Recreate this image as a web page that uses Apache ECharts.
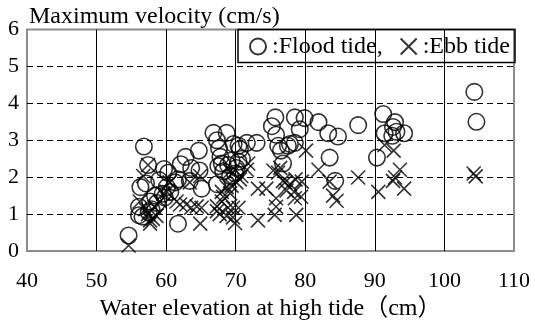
<!DOCTYPE html>
<html>
<head>
<meta charset="utf-8">
<script src="https://cdn.jsdelivr.net/npm/echarts@6/dist/echarts.min.js"></script>
<style>
  html, body { margin: 0; padding: 0; background: #fff; }
  #chart { width: 535px; height: 326px; }
</style>
</head>
<body>
<div id="chart"></div>
<script>
// Water elevation at high tide (cm) vs. maximum velocity (cm/s)
const xTicks = [40, 50, 60, 70, 80, 90, 100, 110];
const yTicks = [0, 1, 2, 3, 4, 5, 6];

// Flood tide observations: [elevation, velocity]
const floodTide = [
  [54.6, 0.42], [56.8, 2.83], [57.4, 2.33], [56.3, 1.73], [57.1, 1.83],
  [56.1, 1.2], [56.1, 0.97], [56.6, 0.93], [57.7, 1.34], [57.9, 1.13],
  [58.4, 1.5], [59.0, 1.92], [59.7, 2.22], [60.1, 1.73], [60.6, 1.6],
  [60.3, 2.12], [59.5, 1.55], [59.8, 1.45], [58.7, 1.3], [57.5, 1.05],
  [61.7, 0.74], [61.7, 1.94], [61.3, 1.86], [62.1, 2.35], [62.8, 2.55],
  [63.6, 2.25], [63.4, 1.9], [64.7, 2.72], [64.8, 2.18], [65.1, 1.69],
  [66.8, 3.2], [67.3, 3.0], [68.7, 3.2], [67.6, 2.78], [67.8, 2.55],
  [67.5, 2.3], [67.3, 1.81], [68.0, 2.37], [68.2, 2.16], [68.9, 2.33],
  [69.2, 2.03], [69.4, 2.45], [69.7, 2.9], [70.1, 2.25], [70.4, 2.42],
  [70.6, 2.76], [70.4, 2.85], [69.9, 2.1], [70.9, 2.5], [71.6, 2.93],
  [73.0, 2.93], [75.2, 3.38], [75.7, 3.62], [75.8, 3.15], [76.1, 2.85],
  [76.5, 2.72], [76.8, 2.37], [77.8, 2.9], [77.5, 2.85], [78.5, 3.62],
  [78.5, 2.93], [79.2, 3.3], [79.9, 3.6], [81.9, 3.49], [83.3, 3.19],
  [84.7, 3.1], [87.6, 3.41], [83.5, 2.53], [84.3, 1.9], [91.2, 3.71],
  [92.9, 3.49], [92.6, 3.36], [91.4, 3.19], [93.1, 3.23], [94.2, 3.19],
  [92.5, 3.12], [90.3, 2.53], [104.3, 4.31], [104.6, 3.5]
];

// Ebb tide observations: [elevation, velocity]
const ebbTide = [
  [54.6, 0.15], [57.4, 2.33], [56.7, 2.03], [56.2, 1.34], [57.0, 1.13],
  [57.7, 0.83], [58.1, 0.87], [58.6, 0.95], [57.4, 1.0], [57.7, 0.74],
  [59.1, 1.34], [59.6, 1.56], [60.1, 1.6], [60.5, 1.86], [58.3, 1.2],
  [61.5, 1.34], [62.0, 1.26], [62.9, 1.26], [63.6, 1.17], [64.4, 1.21],
  [65.1, 1.17], [64.9, 0.74], [63.4, 1.86], [64.9, 2.03], [67.3, 1.21],
  [67.3, 1.08], [68.0, 1.34], [67.7, 1.0], [68.2, 1.47], [68.7, 0.95],
  [68.9, 1.17], [69.6, 1.17], [69.6, 0.91], [69.9, 0.76], [70.4, 1.17],
  [68.0, 1.6], [68.7, 1.73], [69.4, 1.77], [69.2, 1.56], [70.1, 1.86],
  [69.6, 2.12], [69.2, 2.16], [70.6, 1.94], [70.8, 2.03], [71.6, 2.2],
  [71.8, 2.37], [73.2, 1.69], [74.4, 1.69], [73.2, 0.83], [75.4, 2.18],
  [76.1, 2.12], [76.4, 2.25], [76.8, 1.9], [77.1, 1.86], [77.8, 1.81],
  [78.6, 1.94], [79.5, 1.88], [77.3, 1.64], [78.4, 1.6], [75.8, 1.43],
  [78.5, 1.43], [79.4, 1.47], [75.8, 1.2], [75.6, 0.98], [78.7, 0.98],
  [80.1, 2.72], [81.9, 2.2], [83.5, 1.88], [84.0, 1.5], [84.5, 1.36],
  [87.6, 1.99], [90.5, 1.6], [91.4, 2.87], [92.7, 2.72], [93.6, 2.2],
  [92.9, 1.99], [92.6, 1.9], [94.2, 1.69], [104.2, 2.1], [104.5, 2.02]
];

const seriesNames = [':Flood tide,', ':Ebb tide'];
const xAxisTitle = 'Water elevation at high tide（cm）';
const yAxisTitle = 'Maximum velocity (cm/s)';

const serif = '"Liberation Serif", "Times New Roman", "Noto Sans CJK JP", serif';
const crossPath = 'path://M0,0L10,10M10,0L0,10';

const chart = echarts.init(document.getElementById('chart'), null, { renderer: 'canvas' });

chart.setOption({
  animation: false,
  grid: {
    left: 27, right: 21, top: 29.5, bottom: 64,
    show: true, borderColor: '#8c8c8c', borderWidth: 2,
    backgroundColor: 'transparent'
  },
  legend: {
    right: 20, top: 29.5,
    orient: 'horizontal',
    borderColor: '#000', borderWidth: 1.5,
    padding: [5, 5, 4, 11],
    itemWidth: 16, itemHeight: 16, itemGap: 17,
    textStyle: { fontFamily: serif, fontSize: 24, color: '#000', padding: [0, 0, 0, 1] },
    data: seriesNames
  },
  xAxis: {
    type: 'value', min: xTicks[0], max: xTicks[xTicks.length - 1], interval: 10,
    name: xAxisTitle, nameLocation: 'middle', nameGap: 46,
    nameTextStyle: { fontFamily: serif, fontSize: 24, color: '#000' },
    axisLine: { show: false }, axisTick: { show: false },
    axisLabel: { fontFamily: serif, fontSize: 22, color: '#000', margin: 19 },
    splitLine: { show: true, showMinLine: false, showMaxLine: false,
                 lineStyle: { color: '#000', width: 1, type: 'solid' } }
  },
  yAxis: {
    type: 'value', min: yTicks[0], max: yTicks[yTicks.length - 1], interval: 1,
    name: yAxisTitle, nameLocation: 'end', nameGap: 1,
    nameTextStyle: { fontFamily: serif, fontSize: 24, color: '#000', align: 'left', padding: [0, 0, 0, 2] },
    axisLine: { show: false }, axisTick: { show: false },
    axisLabel: { fontFamily: serif, fontSize: 22, color: '#000', margin: 8 },
    splitLine: { show: true, showMinLine: false, showMaxLine: false,
                 lineStyle: { color: '#000', width: 1, type: [6, 4] } }
  },
  series: [
    {
      name: seriesNames[0], type: 'scatter', data: floodTide,
      symbol: 'circle', symbolSize: 16.5,
      itemStyle: { color: 'transparent', borderColor: '#000', borderWidth: 1.6 }
    },
    {
      name: seriesNames[1], type: 'scatter', data: ebbTide,
      symbol: crossPath, symbolSize: 14,
      itemStyle: { color: 'transparent', borderColor: '#000', borderWidth: 1.6 }
    }
  ]
});
</script>
</body>
</html>
